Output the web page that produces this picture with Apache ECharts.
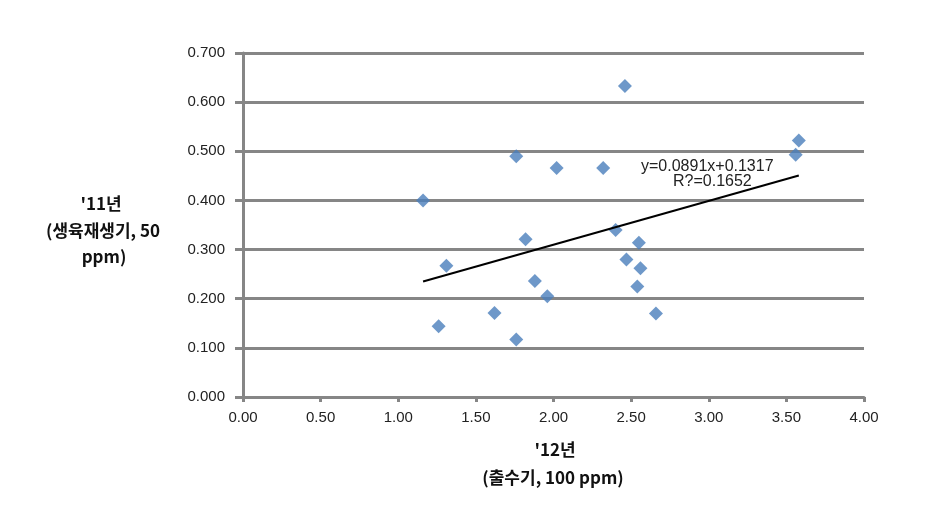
<!DOCTYPE html>
<html>
<head>
<meta charset="utf-8">
<script src="https://cdn.jsdelivr.net/npm/echarts@6/dist/echarts.min.js"></script>
<style>
html,body{margin:0;padding:0;background:#fff;}
#chart{width:944px;height:516px;}
</style>
</head>
<body>
<div id="chart"></div>
<script>
// Data
const xValues = [1.16, 1.26, 1.31, 1.62, 1.76, 1.76, 1.82, 1.88, 1.96, 2.02, 2.32, 2.40, 2.46, 2.47, 2.55, 2.54, 2.56, 2.66, 3.56, 3.58];
const yValues = [0.400, 0.144, 0.267, 0.171, 0.117, 0.490, 0.321, 0.236, 0.205, 0.466, 0.466, 0.340, 0.633, 0.280, 0.314, 0.225, 0.262, 0.170, 0.493, 0.522];
const trendSlope = 0.0891;
const trendIntercept = 0.1317;
const trendText = ['y=0.0891x+0.1317', 'R?=0.1652'];
const xAxisTitle = ["'12년", '(출수기, 100 ppm)'];
const yAxisTitle = ["'11년", '(생육재생기, 50', 'ppm)'];

const points = xValues.map((x, i) => [x, yValues[i]]);
const xMin = Math.min(...xValues), xMax = Math.max(...xValues);
const trendPoints = [[xMin, trendSlope * xMin + trendIntercept], [xMax, trendSlope * xMax + trendIntercept]];

const gray = '#868686';
const numFont = 'Liberation Sans, Arial, sans-serif';
const krFont = '"Noto Sans CJK KR", sans-serif';

const chart = echarts.init(document.getElementById('chart'));
chart.setOption({
  animation: false,
  backgroundColor: '#fff',
  grid: {left: 243, right: 80, top: 53, bottom: 119, containLabel: false},
  xAxis: {
    type: 'value', min: 0, max: 4, interval: 0.5,
    axisLine: {show: true, lineStyle: {color: gray, width: 3}},
    axisTick: {show: true, length: 5, lineStyle: {color: gray, width: 3}},
    splitLine: {show: false},
    axisLabel: {margin: 13, color: '#222', fontSize: 15, fontFamily: numFont,
      formatter: v => v.toFixed(2)}
  },
  yAxis: {
    type: 'value', min: 0, max: 0.7, interval: 0.1,
    axisLine: {show: true, lineStyle: {color: gray, width: 3}},
    axisTick: {show: true, length: 8, lineStyle: {color: gray, width: 3}},
    splitLine: {show: true, lineStyle: {color: gray, width: 3}},
    axisLabel: {margin: 18, color: '#222', fontSize: 15, fontFamily: numFont,
      formatter: v => v.toFixed(3)}
  },
  series: [
    {
      type: 'scatter', data: points, symbol: 'diamond', symbolSize: 14,
      itemStyle: {color: '#4A7EBB'}, z: 3
    },
    {
      type: 'line', data: trendPoints, showSymbol: false, symbol: 'none',
      lineStyle: {color: '#000', width: 2}, z: 4
    }
  ],
  graphic: [
    {type: 'text', x: 641, y: 167, style: {text: trendText[0], fontSize: 16, fontFamily: numFont, fill: '#222', align: 'left', verticalAlign: 'middle'}},
    {type: 'text', x: 673, y: 182, style: {text: trendText[1], fontSize: 16, fontFamily: numFont, fill: '#222', align: 'left', verticalAlign: 'middle'}},
    {type: 'text', x: 555, y: 450, style: {text: xAxisTitle[0], fontSize: 17, fontWeight: 'bold', fontFamily: krFont, fill: '#111', align: 'center', verticalAlign: 'middle'}},
    {type: 'text', x: 553, y: 478, style: {text: xAxisTitle[1], fontSize: 17, fontWeight: 'bold', fontFamily: krFont, fill: '#111', align: 'center', verticalAlign: 'middle'}},
    {type: 'text', x: 101, y: 204, style: {text: yAxisTitle[0], fontSize: 17, fontWeight: 'bold', fontFamily: krFont, fill: '#111', align: 'center', verticalAlign: 'middle'}},
    {type: 'text', x: 103, y: 231, style: {text: yAxisTitle[1], fontSize: 17, fontWeight: 'bold', fontFamily: krFont, fill: '#111', align: 'center', verticalAlign: 'middle'}},
    {type: 'text', x: 104, y: 257, style: {text: yAxisTitle[2], fontSize: 17, fontWeight: 'bold', fontFamily: krFont, fill: '#111', align: 'center', verticalAlign: 'middle'}}
  ]
});
</script>
</body>
</html>
